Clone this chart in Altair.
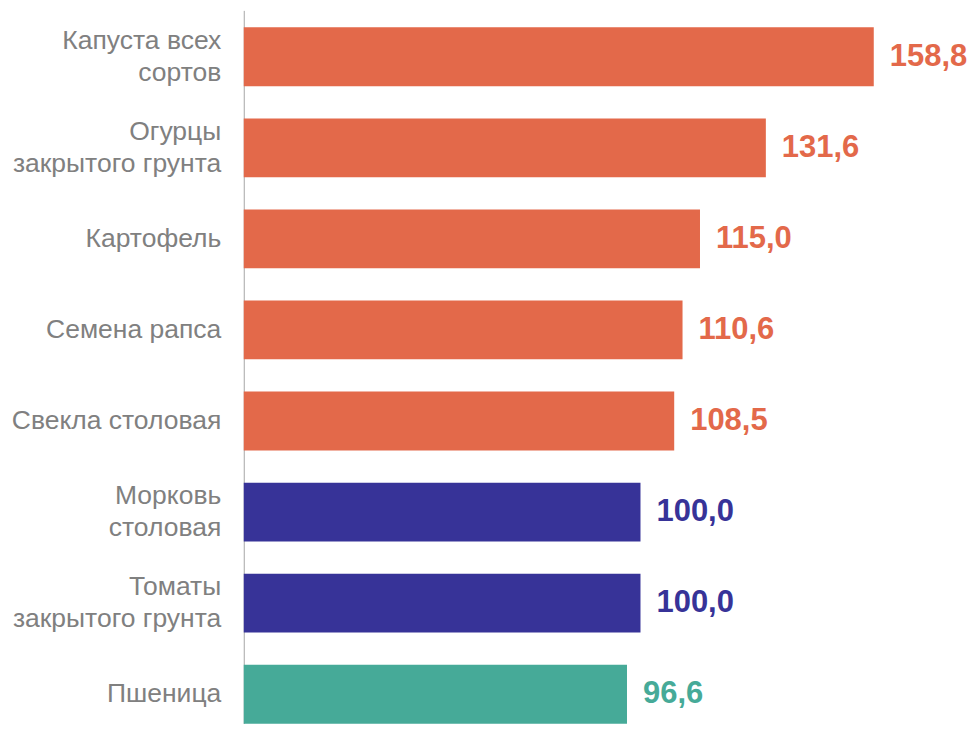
import altair as alt
import pandas as pd

categories = [
    "Капуста всех\nсортов",
    "Огурцы\nзакрытого грунта",
    "Картофель",
    "Семена рапса",
    "Свекла столовая",
    "Морковь\nстоловая",
    "Томаты\nзакрытого грунта",
    "Пшеница",
]
values = [158.8, 131.6, 115.0, 110.6, 108.5, 100.0, 100.0, 96.6]
groups = ["up", "up", "up", "up", "up", "same", "same", "down"]

group_domain = ["up", "same", "down"]
group_colors = ["#E3694A", "#373398", "#46AA98"]

df = pd.DataFrame({"cat": categories, "value": values, "grp": groups})

FONT = "Liberation Sans"

y_enc = alt.Y(
    "cat:N",
    sort=categories,
    scale=alt.Scale(paddingInner=0.3544, paddingOuter=0.0932, align=1, round=False),
    axis=alt.Axis(
        title=None,
        ticks=False,
        domainColor="#A6A6A6",
        domainWidth=1,
        labelColor="#808080",
        labelFont=FONT,
        labelFontSize=26.5,
        labelLineHeight=32,
        labelPadding=23,
        labelLimit=400,
        labelOffset={"condition": {"test": "indexof(datum.value, '\\n') >= 0", "value": -16}, "value": 0},
        labelExpr="split(datum.label, '\\n')",
    ),
)
x_enc = alt.X("value:Q", scale=alt.Scale(domain=[0, 175], nice=False, zero=True), axis=None)
color_enc = alt.Color(
    "grp:N", scale=alt.Scale(domain=group_domain, range=group_colors), legend=None
)

base = alt.Chart(df)

bars = base.mark_bar().encode(y=y_enc, x=x_enc, color=color_enc)

labels = (
    base.transform_calculate(lbl="replace(format(datum.value, '.1f'), '.', ',')")
    .mark_text(
        align="left",
        baseline="middle",
        dx=16,
        font=FONT,
        fontSize=31,
        fontWeight="bold",
    )
    .encode(y=y_enc, x=x_enc, text="lbl:N", color=color_enc)
)

chart = (
    alt.layer(bars, labels)
    .properties(
        width=695,
        height=714,
        autosize=alt.AutoSizeParams(type="none"),
        padding={"left": 236, "top": 2, "right": 31, "bottom": 0},
    )
    .configure_view(stroke=None)
)

chart.save("out.html", embed_options={"renderer": "svg", "actions": False})
